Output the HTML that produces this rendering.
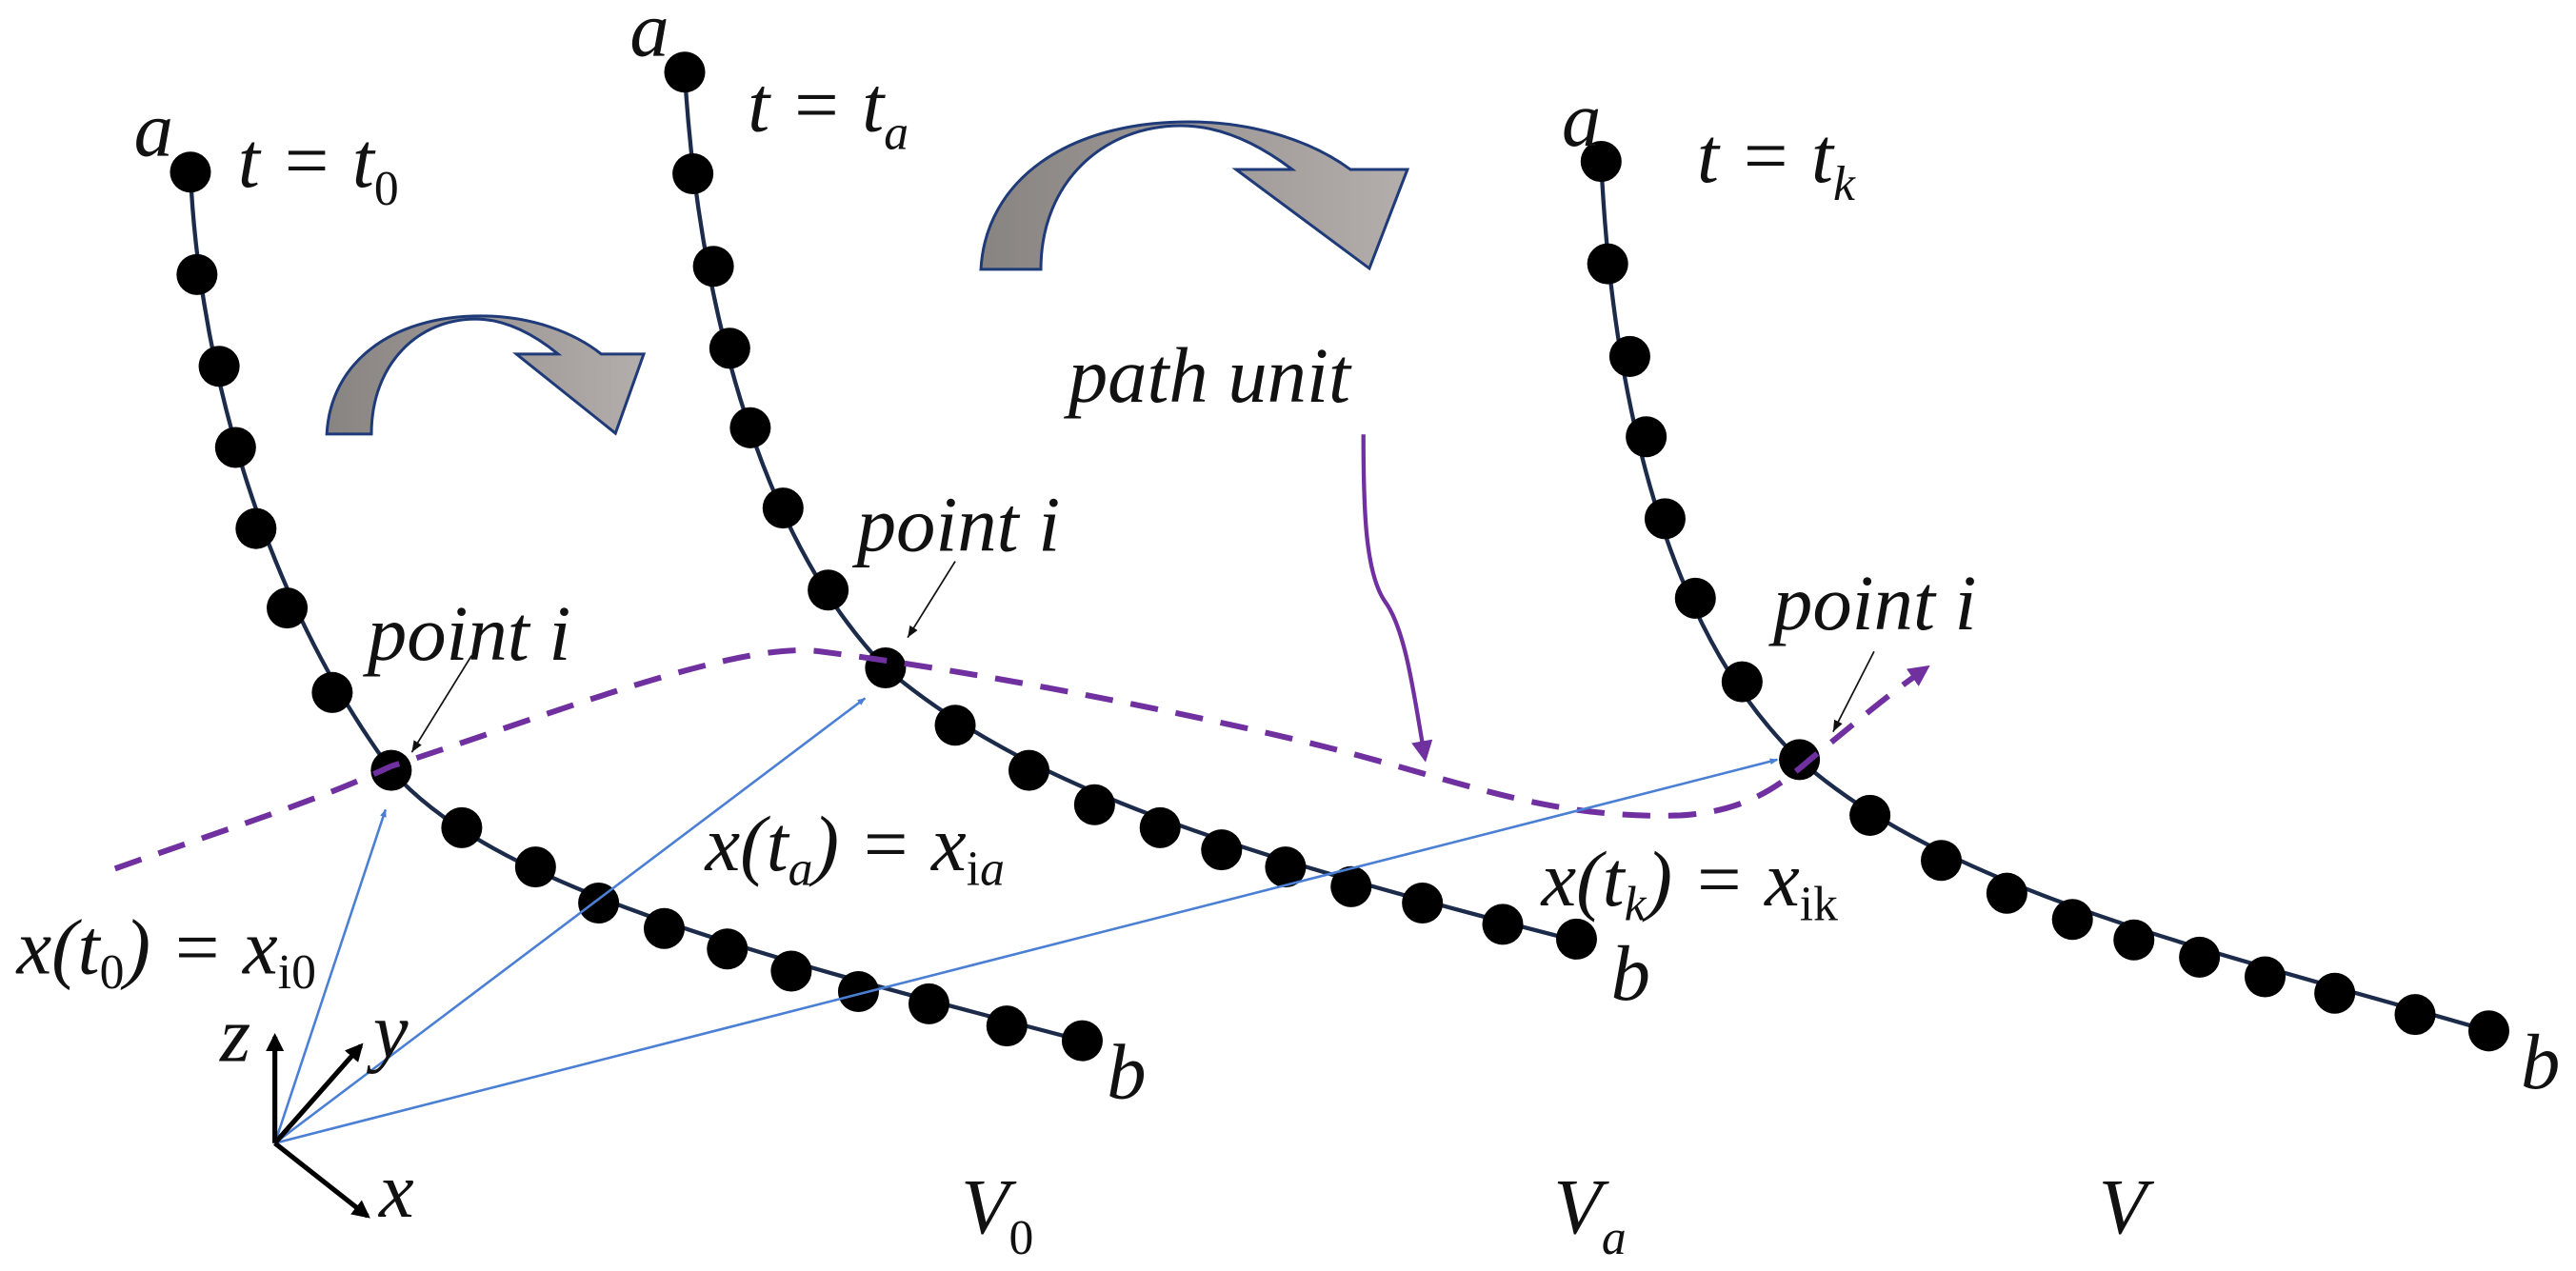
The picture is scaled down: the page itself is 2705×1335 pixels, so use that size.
<!DOCTYPE html>
<html><head><meta charset="utf-8"><style>
html,body{margin:0;padding:0;background:#fff;}
svg{display:block;}
</style></head><body>
<svg width="2705" height="1335" viewBox="0 0 3142 1551" xmlns="http://www.w3.org/2000/svg" style="font-family:'Liberation Serif','DejaVu Serif',serif;">
<defs>
<linearGradient id="g" x1="0" x2="1" y1="0" y2="0">
<stop offset="0" stop-color="#888482"/><stop offset="1" stop-color="#b3adab"/>
</linearGradient>
<marker id="bl" markerWidth="10" markerHeight="10" refX="9" refY="5" orient="auto" markerUnits="userSpaceOnUse" viewBox="0 0 10 10"><path d="M0,1 L10,5 L0,9z" fill="#4a7fd4"/></marker>
<marker id="bk" markerWidth="14" markerHeight="14" refX="10" refY="5" orient="auto" markerUnits="userSpaceOnUse" viewBox="0 0 10 10"><path d="M0,1 L10,5 L0,9z" fill="#111"/></marker>
<marker id="ax" markerWidth="22" markerHeight="22" refX="8" refY="5" orient="auto" markerUnits="userSpaceOnUse" viewBox="0 0 10 10"><path d="M0,0 L10,5 L0,10z" fill="#000"/></marker>
<marker id="pu" markerWidth="26" markerHeight="26" refX="8" refY="5" orient="auto" markerUnits="userSpaceOnUse" viewBox="0 0 10 10"><path d="M0,0 L10,5 L0,10z" fill="#7030a0"/></marker>
</defs>

<g transform="scale(1.1615)">
<path d="M1030,283 C1035,190 1120,128 1248,128 C1320,128 1380,150 1418,178 L1478,178 L1438,282 L1298,178 L1357,178 C1320,150 1280,132 1240,132 C1160,132 1093,190 1093,283 Z" fill="url(#g)" stroke="#1f3a78" stroke-width="3"/>
<g transform="translate(343,332) scale(0.743,0.8) translate(-1030,-128)">
<path d="M1030,283 C1035,190 1120,128 1248,128 C1320,128 1380,150 1418,178 L1478,178 L1438,282 L1298,178 L1357,178 C1320,150 1280,132 1240,132 C1160,132 1093,190 1093,283 Z" fill="url(#g)" stroke="#1f3a78" stroke-width="3" vector-effect="non-scaling-stroke"/>
</g>
</g>

<g fill="none" stroke="#1c2b4a" stroke-width="5">
<path d="M232,210 C240,400 300,700 477,940 C600,1080 900,1160 1320,1270"/>
<path d="M835,88 C850,350 920,650 1080,815 C1250,960 1500,1040 1923,1148"/>
<path d="M1953,197 C1965,450 2020,760 2195,927 C2380,1090 2700,1160 3036,1258"/>
</g>
<g fill="#000">
<circle cx="232" cy="210" r="25"/><circle cx="240" cy="335" r="25"/><circle cx="267" cy="447" r="25"/><circle cx="287" cy="546" r="25"/><circle cx="312" cy="645" r="25"/><circle cx="350" cy="742" r="25"/><circle cx="405" cy="845" r="25"/><circle cx="477" cy="940" r="25"/><circle cx="563" cy="1010" r="25"/><circle cx="653" cy="1058" r="25"/><circle cx="730" cy="1102" r="25"/><circle cx="810" cy="1133" r="25"/><circle cx="887" cy="1158" r="25"/><circle cx="965" cy="1185" r="25"/><circle cx="1047" cy="1210" r="25"/><circle cx="1133" cy="1225" r="25"/><circle cx="1228" cy="1252" r="25"/><circle cx="1320" cy="1270" r="25"/>
<circle cx="835" cy="88" r="25"/><circle cx="845" cy="212" r="25"/><circle cx="870" cy="325" r="25"/><circle cx="890" cy="425" r="25"/><circle cx="915" cy="522" r="25"/><circle cx="955" cy="620" r="25"/><circle cx="1010" cy="720" r="25"/><circle cx="1080" cy="815" r="25"/><circle cx="1165" cy="885" r="25"/><circle cx="1255" cy="940" r="25"/><circle cx="1335" cy="982" r="25"/><circle cx="1415" cy="1010" r="25"/><circle cx="1490" cy="1037" r="25"/><circle cx="1568" cy="1058" r="25"/><circle cx="1648" cy="1082" r="25"/><circle cx="1735" cy="1102" r="25"/><circle cx="1833" cy="1128" r="25"/><circle cx="1923" cy="1146" r="25"/>
<circle cx="1953" cy="197" r="25"/><circle cx="1961" cy="322" r="25"/><circle cx="1988" cy="435" r="25"/><circle cx="2008" cy="533" r="25"/><circle cx="2031" cy="633" r="25"/><circle cx="2068" cy="730" r="25"/><circle cx="2125" cy="832" r="25"/><circle cx="2195" cy="927" r="25"/><circle cx="2281" cy="995" r="25"/><circle cx="2368" cy="1050" r="25"/><circle cx="2448" cy="1090" r="25"/><circle cx="2528" cy="1122" r="25"/><circle cx="2603" cy="1147" r="25"/><circle cx="2683" cy="1168" r="25"/><circle cx="2763" cy="1192" r="25"/><circle cx="2848" cy="1212" r="25"/><circle cx="2946" cy="1238" r="25"/><circle cx="3036" cy="1258" r="25"/>
</g>

<path d="M140,1060 C280,1010 380,980 477,935 C650,880 900,780 1000,795 C1200,820 1500,880 1650,920 C1800,960 1900,1000 2050,995 C2130,990 2170,960 2210,925 C2260,885 2300,850 2350,815" fill="none" stroke="#7030a0" stroke-width="7" stroke-dasharray="34,22" marker-end="url(#pu)"/>

<path d="M1663,530 C1663,620 1665,700 1690,735 C1715,770 1725,850 1738,925" fill="none" stroke="#7030a0" stroke-width="5" marker-end="url(#pu)"/>

<g stroke="#4a7fd4" stroke-width="3" fill="none">
<line x1="335" y1="1395" x2="470" y2="988" marker-end="url(#bl)"/>
<line x1="335" y1="1395" x2="1055" y2="852" marker-end="url(#bl)"/>
<line x1="335" y1="1395" x2="2168" y2="927" marker-end="url(#bl)"/>
</g>

<g stroke="#000" stroke-width="6">
<line x1="335" y1="1395" x2="335" y2="1265" marker-end="url(#ax)"/>
<line x1="335" y1="1395" x2="440" y2="1276" marker-end="url(#ax)"/>
<line x1="335" y1="1395" x2="448" y2="1484" marker-end="url(#ax)"/>
</g>

<g stroke="#111" stroke-width="2">
<line x1="575" y1="800" x2="502" y2="918" marker-end="url(#bk)"/>
<line x1="1165" y1="685" x2="1107" y2="778" marker-end="url(#bk)"/>
<line x1="2286" y1="795" x2="2236" y2="893" marker-end="url(#bk)"/>
</g>

<g font-size="96" font-style="italic" fill="#111" font-family="Liberation Serif, DejaVu Serif, serif">
<text x="163" y="190">a</text>
<text x="290" y="228">t = t<tspan font-size="60" dy="22" font-style="normal">0</tspan></text>
<text x="768" y="68">a</text>
<text x="912" y="160">t = t<tspan font-size="60" dy="22">a</tspan></text>
<text x="1905" y="178">a</text>
<text x="2070" y="222">t = t<tspan font-size="60" dy="22">k</tspan></text>
<text x="1303" y="490">path unit</text>
<text x="448" y="805">point i</text>
<text x="1045" y="672">point i</text>
<text x="2163" y="768">point i</text>
<text x="20" y="1188">x(t<tspan font-size="60" dy="18" font-style="normal">0</tspan><tspan dy="-18">) = x</tspan><tspan font-size="60" dy="18" font-style="normal">i0</tspan></text>
<text x="860" y="1062">x(t<tspan font-size="60" dy="18">a</tspan><tspan dy="-18">) = x</tspan><tspan font-size="60" dy="18" font-style="normal">i</tspan><tspan font-size="60">a</tspan></text>
<text x="1880" y="1105">x(t<tspan font-size="60" dy="18">k</tspan><tspan dy="-18">) = x</tspan><tspan font-size="60" dy="18" font-style="normal">ik</tspan></text>
<text x="1350" y="1340">b</text>
<text x="1965" y="1220">b</text>
<text x="3075" y="1328">b</text>
<text x="268" y="1295">z</text>
<text x="455" y="1290">y</text>
<text x="462" y="1485">x</text>
<text x="1172" y="1505">V<tspan font-size="60" dy="25" font-style="normal">0</tspan></text>
<text x="1895" y="1505">V<tspan font-size="60" dy="25">a</tspan></text>
<text x="2560" y="1505">V</text>
</g>
</svg>
</body></html>
